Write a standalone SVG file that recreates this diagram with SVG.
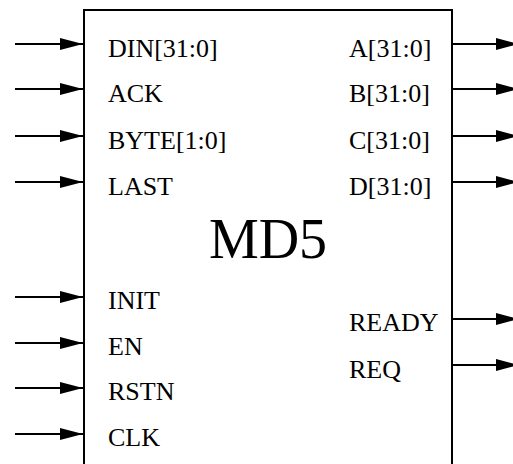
<svg xmlns="http://www.w3.org/2000/svg" width="513" height="464" viewBox="0 0 513 464">
<style>
.lbl{font-family:"Liberation Serif","Times New Roman",serif;font-size:26px;fill:#000}
.w{stroke:#000;stroke-width:2;fill:none}
.title{font-family:"Liberation Serif","Times New Roman",serif;font-size:56px;fill:#000;text-anchor:middle}
</style>
<defs>
<marker id="ah" markerUnits="userSpaceOnUse" markerWidth="24" markerHeight="14" refX="23" refY="6" orient="auto">
<polygon points="0,0 23,6 0,12" fill="#000"/>
</marker>
</defs>
<g id="md5">
<rect x="84" y="10" width="368" height="470" fill="#fff" stroke="#000" stroke-width="2"/>
<text class="title" x="268" y="258">MD5</text>
</g>
<g id="connectors">
<line class="w" x1="15" y1="44" x2="83" y2="44" marker-end="url(#ah)"/>
<line class="w" x1="15" y1="89" x2="83" y2="89" marker-end="url(#ah)"/>
<line class="w" x1="15" y1="136" x2="83" y2="136" marker-end="url(#ah)"/>
<line class="w" x1="15" y1="182" x2="83" y2="182" marker-end="url(#ah)"/>
<line class="w" x1="15" y1="297" x2="83" y2="297" marker-end="url(#ah)"/>
<line class="w" x1="15" y1="343" x2="83" y2="343" marker-end="url(#ah)"/>
<line class="w" x1="15" y1="388" x2="83" y2="388" marker-end="url(#ah)"/>
<line class="w" x1="15" y1="434" x2="83" y2="434" marker-end="url(#ah)"/>
<line class="w" x1="452" y1="44" x2="519" y2="44" marker-end="url(#ah)"/>
<line class="w" x1="452" y1="89" x2="519" y2="89" marker-end="url(#ah)"/>
<line class="w" x1="452" y1="136" x2="519" y2="136" marker-end="url(#ah)"/>
<line class="w" x1="452" y1="182" x2="519" y2="182" marker-end="url(#ah)"/>
<line class="w" x1="452" y1="319" x2="519" y2="319" marker-end="url(#ah)"/>
<line class="w" x1="452" y1="365" x2="519" y2="365" marker-end="url(#ah)"/>
</g>
<g id="labels">
<text class="lbl" x="108" y="57">DIN[31:0]</text>
<text class="lbl" x="108" y="102">ACK</text>
<text class="lbl" x="108" y="149">BYTE[1:0]</text>
<text class="lbl" x="108" y="195">LAST</text>
<text class="lbl" x="108" y="309">INIT</text>
<text class="lbl" x="108" y="355">EN</text>
<text class="lbl" x="108" y="400">RSTN</text>
<text class="lbl" x="108" y="446">CLK</text>
<text class="lbl" x="349" y="57">A[31:0]</text>
<text class="lbl" x="349" y="102">B[31:0]</text>
<text class="lbl" x="349" y="149">C[31:0]</text>
<text class="lbl" x="349" y="195">D[31:0]</text>
<text class="lbl" x="349" y="331">READY</text>
<text class="lbl" x="349" y="378">REQ</text>
</g>
</svg>
